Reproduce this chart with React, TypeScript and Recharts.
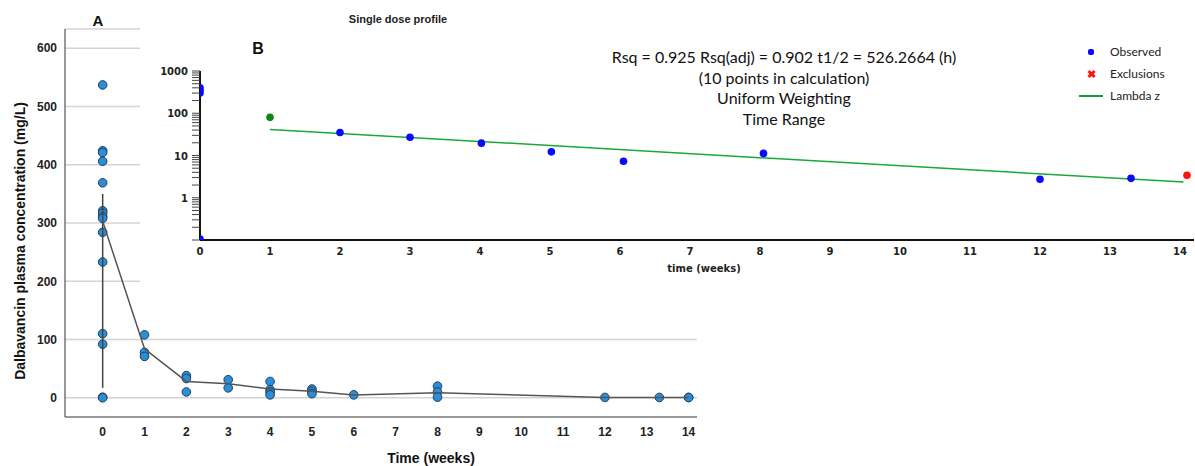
import React from 'react'
import { ScatterChart, Scatter, XAxis, YAxis, CartesianGrid } from 'recharts'

// Panel A: individual observations (weeks, mg/L)
const obsWeek = [
  0, 0, 0, 0, 0, 0, 0, 0, 0, 0, 0, 0, 0, 0, 0,
  1, 1, 1,
  2, 2, 2,
  3, 3,
  4, 4, 4, 4,
  5, 5, 5,
  6,
  8, 8, 8,
  12, 13.3, 14, 14,
]
const obsConc = [
  537, 424, 421, 406, 369, 321, 317, 311, 308, 284, 233, 110, 92, 1, 0,
  108, 78, 71,
  38, 33, 10,
  31, 17,
  28, 14, 10, 5,
  15, 11, 7,
  5,
  20, 10, 1,
  0.6, 0.6, 0.6, 0.4,
]

// Panel A: mean profile
const meanWeek = [0, 1, 2, 3, 4, 5, 6, 8, 12, 13.3, 14]
const meanConc = [303, 84, 28, 24, 15, 11, 4.6, 8.6, 0.6, 0.6, 0.6]

// vertical bar at week 0
const barWeek = [0, 0]
const barConc = [17, 350]

const weekTicks = [0, 1, 2, 3, 4, 5, 6, 7, 8, 9, 10, 11, 12, 13, 14]
const concTicks = [0, 100, 200, 300, 400, 500, 600]

// Panel B: single dose profile (log scale)
const bObsWeek = [0, 0, 0, 0, 2, 3, 4.02, 5.02, 6.05, 8.05, 12, 13.3]
const bObsConc = [300, 350, 400, 0.105, 35, 27, 19.6, 12.2, 7.3, 11.2, 2.73, 2.88]
const bStartWeek = [1]
const bStartConc = [80]
const bExclWeek = [14.1]
const bExclConc = [3.4]
const lambdaWeek = [1, 14.05]
const lambdaConc = [41.5, 2.35]

const decades = [1, 10, 100, 1000]
const minorSteps = [2, 3, 4, 5, 6, 7, 8, 9]
const logTicks = [0.1, ...[0.1, 1, 10, 100].flatMap(d => minorSteps.map(m => +(d * m).toPrecision(3))), ...decades].sort((a, b) => a - b)

const zip = (xs: number[], ys: number[]) => xs.map((t, i) => ({ t, c: ys[i] }))

const FONT_A = '"Liberation Sans", Arial, sans-serif'
const FONT_B = '"DejaVu Sans", Verdana, sans-serif'
const FONT_NOTE = 'Lato, "Open Sans", sans-serif'

const Nothing = () => <g />

function LogTick(props: any) {
  const { x, y, payload } = props
  if (!decades.includes(payload.value)) return <g />
  return (
    <text x={x} y={y} dy={4} textAnchor="end" fontSize={10} fontWeight="bold" fontFamily={FONT_B} fill="#222">
      {payload.value}
    </text>
  )
}

export default function App() {
  return (
    <div style={{ position: 'absolute', left: 0, top: 0, width: 1195, height: 466, background: '#fff', overflow: 'hidden' }}>
      <div style={{ position: 'absolute', left: 0, top: 0 }}>
        <ScatterChart width={1195} height={466} margin={{ top: 29, right: 498, bottom: 0, left: 0 }}>
          <CartesianGrid vertical={false} stroke="#d4d4d4" strokeWidth={1.5} />
          <XAxis
            type="number"
            dataKey="t"
            domain={[-0.9, 14.2]}
            ticks={weekTicks}
            interval={0}
            height={49}
            tickLine={false}
            axisLine={{ stroke: '#555', strokeWidth: 1.2 }}
            tick={{ fontSize: 12, fontWeight: 'bold', fill: '#222', fontFamily: FONT_A }}
            tickMargin={4}
          />
          <YAxis
            type="number"
            dataKey="c"
            domain={[-33, 633]}
            ticks={concTicks}
            interval={0}
            width={65}
            tickLine={false}
            axisLine={{ stroke: '#555', strokeWidth: 1.2 }}
            tick={{ fontSize: 12, fontWeight: 'bold', fill: '#222', fontFamily: FONT_A }}
          />
          <Scatter
            data={zip(obsWeek, obsConc)}
            fill="#2b8fd8"
            stroke="#1d3f60"
            strokeWidth={1}
            isAnimationActive={false}
            shape={(p: any) => <circle cx={p.cx} cy={p.cy} r={4.3} fill="#2b8fd8" stroke="#1d3f60" strokeWidth={1} />}
          />
          <Scatter
            data={zip(barWeek, barConc)}
            line={{ stroke: '#444', strokeWidth: 1.5 }}
            shape={Nothing}
            isAnimationActive={false}
          />
          <Scatter
            data={zip(meanWeek, meanConc)}
            line={{ stroke: '#555', strokeWidth: 1.5 }}
            shape={Nothing}
            isAnimationActive={false}
          />
        </ScatterChart>
      </div>

      <div style={{ position: 'absolute', left: 140, top: 0, width: 1055, height: 328, background: '#fff' }}>
        <ScatterChart width={1055} height={328} margin={{ top: 71, right: 1, bottom: 0, left: 0 }}>
          <XAxis
            type="number"
            dataKey="t"
            domain={[0, 14.2]}
            ticks={weekTicks}
            interval={0}
            height={88}
            tickLine={false}
            allowDataOverflow
            axisLine={{ stroke: '#111', strokeWidth: 2 }}
            tick={{ fontSize: 10, fontWeight: 'bold', fill: '#222', fontFamily: FONT_B }}
          />
          <YAxis
            type="number"
            dataKey="c"
            scale="log"
            domain={[0.1, 1000]}
            allowDataOverflow
            ticks={logTicks}
            interval={0}
            width={60}
            tickSize={8}
            tickMargin={4}
            tickLine={{ stroke: '#444', strokeWidth: 1 }}
            axisLine={{ stroke: '#111', strokeWidth: 2 }}
            tick={<LogTick />}
          />
          <Scatter
            data={zip(lambdaWeek, lambdaConc)}
            line={{ stroke: '#1aa83a', strokeWidth: 1.5 }}
            shape={Nothing}
            isAnimationActive={false}
          />
          <Scatter
            data={zip(bObsWeek, bObsConc)}
            isAnimationActive={false}
            shape={(p: any) => <circle cx={p.cx} cy={p.cy} r={3.8} fill="#0a0aff" />}
          />
          <Scatter
            data={zip(bStartWeek, bStartConc)}
            isAnimationActive={false}
            shape={(p: any) => <circle cx={p.cx} cy={p.cy} r={3.8} fill="#0a8a12" />}
          />
          <Scatter
            data={zip(bExclWeek, bExclConc)}
            isAnimationActive={false}
            shape={(p: any) => <circle cx={p.cx} cy={p.cy} r={3.8} fill="#ff1010" />}
          />
        </ScatterChart>
      </div>

      {/* titles and axis names */}
      <div style={{ position: 'absolute', left: 98, top: 20, transform: 'translate(-50%,-50%)', font: `bold 15px ${FONT_A}`, color: '#111' }}>A</div>
      <div style={{ position: 'absolute', left: 258, top: 49, transform: 'translate(-50%,-50%)', font: `bold 16px ${FONT_A}`, color: '#111' }}>B</div>
      <div style={{ position: 'absolute', left: 398, top: 19, transform: 'translate(-50%,-50%)', font: `bold 11px ${FONT_A}`, color: '#222', whiteSpace: 'nowrap' }}>Single dose profile</div>
      <div style={{ position: 'absolute', left: 20, top: 241, transform: 'translate(-50%,-50%) rotate(-90deg)', font: `bold 14px ${FONT_A}`, color: '#111', whiteSpace: 'nowrap' }}>
        Dalbavancin plasma concentration (mg/L)
      </div>
      <div style={{ position: 'absolute', left: 431, top: 458, transform: 'translate(-50%,-50%)', font: `bold 14px ${FONT_A}`, color: '#111', whiteSpace: 'nowrap' }}>Time (weeks)</div>
      <div style={{ position: 'absolute', left: 704, top: 268, transform: 'translate(-50%,-50%)', font: `bold 10px ${FONT_B}`, color: '#222', whiteSpace: 'nowrap' }}>time (weeks)</div>

      {/* fit annotation */}
      <div style={{ position: 'absolute', left: 784, top: 47, transform: 'translateX(-50%)', font: `16px ${FONT_NOTE}`, color: '#111', textAlign: 'center', lineHeight: '20.5px', whiteSpace: 'nowrap' }}>
        <div>Rsq = 0.925 Rsq(adj) = 0.902 t1/2 = 526.2664 (h)</div>
        <div>(10 points in calculation)</div>
        <div>Uniform Weighting</div>
        <div>Time Range</div>
      </div>

      {/* legend */}
      <div style={{ position: 'absolute', left: 1078, top: 41, font: `12px ${FONT_NOTE}`, color: '#222', lineHeight: '22px' }}>
        <div style={{ display: 'flex', alignItems: 'center' }}>
          <span style={{ width: 26, display: 'inline-flex', justifyContent: 'center' }}>
            <span style={{ width: 6, height: 6, borderRadius: 2, background: '#0a0aff', display: 'inline-block' }} />
          </span>
          <span style={{ marginLeft: 6 }}>Observed</span>
        </div>
        <div style={{ display: 'flex', alignItems: 'center' }}>
          <span style={{ width: 26, display: 'inline-flex', justifyContent: 'center', color: '#ff1010', fontWeight: 'bold', fontSize: 11 }}>✖</span>
          <span style={{ marginLeft: 6 }}>Exclusions</span>
        </div>
        <div style={{ display: 'flex', alignItems: 'center' }}>
          <span style={{ width: 26, display: 'inline-flex', justifyContent: 'center' }}>
            <span style={{ width: 24, height: 2, background: '#1a9a30', display: 'inline-block' }} />
          </span>
          <span style={{ marginLeft: 6 }}>Lambda z</span>
        </div>
      </div>
    </div>
  )
}
